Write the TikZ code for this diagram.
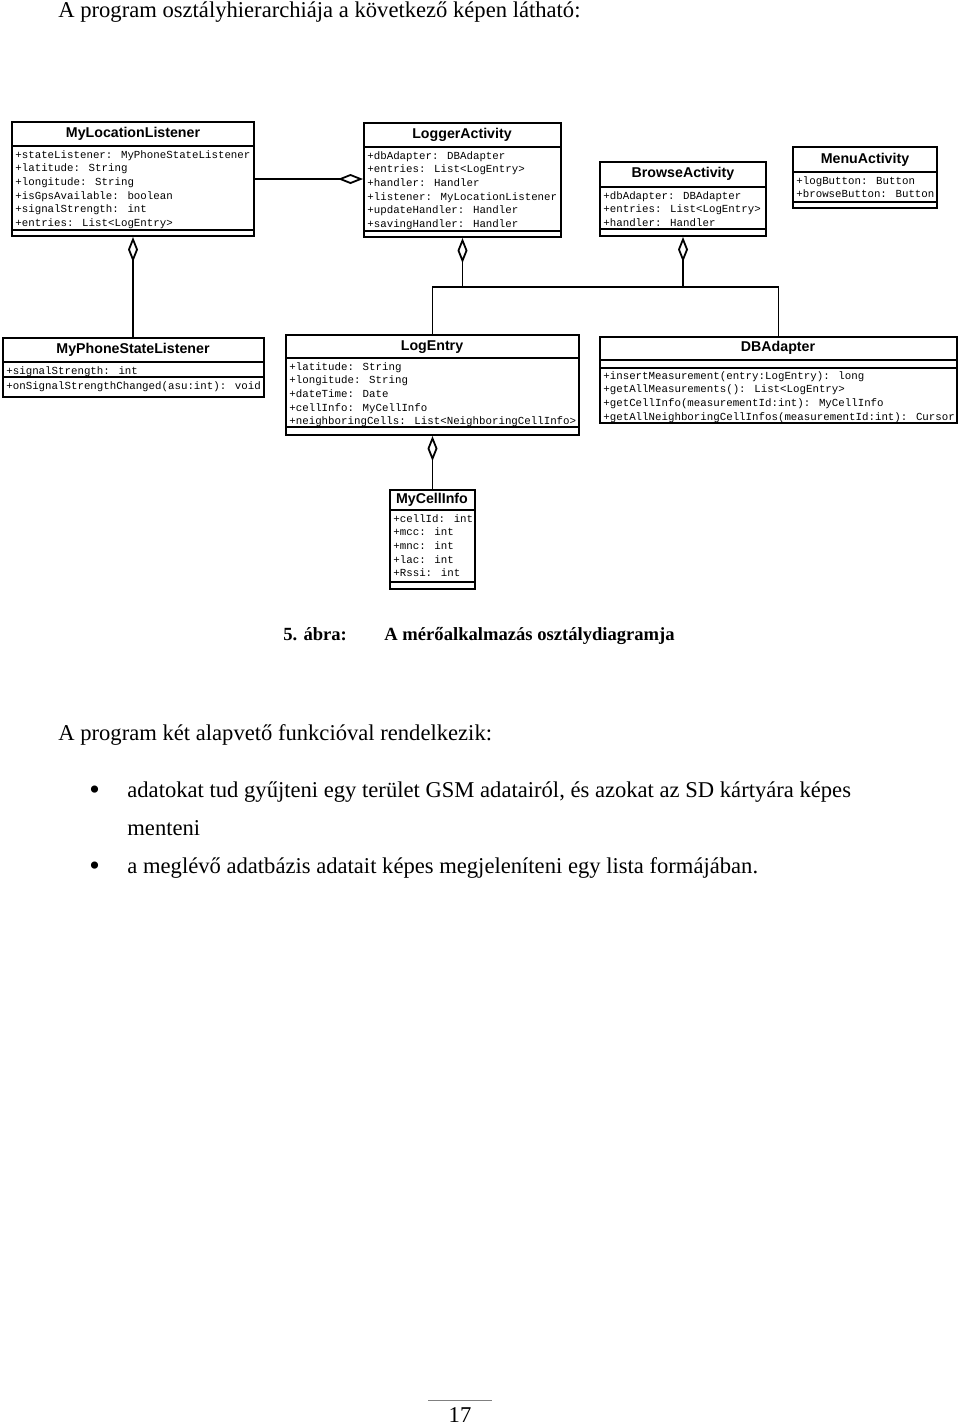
\documentclass[tikz,border=0pt]{standalone}
\usepackage{fontspec}
\setmainfont{Liberation Serif}
\newfontfamily\umlsans{Liberation Sans}
\newfontfamily\umlmono{Liberation Mono}
\usetikzlibrary{arrows.meta,fit}

\begin{document}
\begin{tikzpicture}[x=0.5pt,y=-0.5pt,
  classbox/.style={draw,line width=1pt,inner sep=0pt,fit={#1}},
  div/.style={line width=1pt},
  title/.style={font=\umlsans\bfseries\fontsize{7.1}{8.5}\selectfont},
  attr/.style={anchor=north west,inner sep=0pt,align=left,font=\umlmono\fontsize{5.39}{6.8}\selectfont},
  body/.style={anchor=base west,inner sep=0pt,font=\fontsize{11.3}{13}\selectfont},
  aggr/.style={{Diamond[open,length=12.5pt,width=5pt]}-,line width=0.9pt},
  aggrend/.style={-{Diamond[open,length=12.5pt,width=5pt]},line width=0.9pt}]
\fill[white] (0,0) rectangle (960,1426);
\useasboundingbox (0,0) rectangle (960,1426);

\node[body] (intro) at (58,17) {A program osztályhierarchiája a következő képen látható:};

% top row
\node[classbox={(12,122)(254,236)}] (mll) {};
\draw[div] (12,146)--(254,146);\draw[div] (12,230)--(254,230);
\node[title] (mllT) at (133,134) {MyLocationListener};
\node[attr] (mllA) at (15,150) {+stateListener: MyPhoneStateListener\\+latitude: String\\+longitude: String\\+isGpsAvailable: boolean\\+signalStrength: int\\+entries: List<LogEntry>};

\node[classbox={(364,123)(561,237)}] (la) {};
\draw[div] (364,147)--(561,147);\draw[div] (364,231)--(561,231);
\node[title] (laT) at (462,135) {LoggerActivity};
\node[attr] (laA) at (367,151) {+dbAdapter: DBAdapter\\+entries: List<LogEntry>\\+handler: Handler\\+listener: MyLocationListener\\+updateHandler: Handler\\+savingHandler: Handler};

\node[classbox={(600,162)(766,236)}] (ba) {};
\draw[div] (600,187)--(766,187);\draw[div] (600,229)--(766,229);
\node[title] (baT) at (683,174) {BrowseActivity};
\node[attr] (baA) at (603,191) {+dbAdapter: DBAdapter\\+entries: List<LogEntry>\\+handler: Handler};

\node[classbox={(793,147)(937,208)}] (ma) {};
\draw[div] (793,172)--(937,172);\draw[div] (793,202)--(937,202);
\node[title] (maT) at (865,160) {MenuActivity};
\node[attr] (maA) at (796,176) {+logButton: Button\\+browseButton: Button};

% bottom row
\node[classbox={(3,338)(264,397)}] (mps) {};
\draw[div] (3,362)--(264,362);\draw[div] (3,377)--(264,377);
\node[title] (mpsT) at (133,350) {MyPhoneStateListener};
\node[attr] (mpsA) at (6,366) {+signalStrength: int};
\node[attr] (mpsM) at (6,381) {+onSignalStrengthChanged(asu:int): void};

\node[classbox={(286,335)(579,435)}] (le) {};
\draw[div] (286,358)--(579,358);\draw[div] (286,427)--(579,427);
\node[title] (leT) at (432,347) {LogEntry};
\node[attr] (leA) at (289,362) {+latitude: String\\+longitude: String\\+dateTime: Date\\+cellInfo: MyCellInfo\\+neighboringCells: List<NeighboringCellInfo>};

\node[classbox={(600,337)(957,423)}] (dba) {};
\draw[div] (600,360)--(957,360);\draw[div] (600,368)--(957,368);
\node[title] (dbaT) at (778,348) {DBAdapter};
\node[attr] (dbaM) at (603,371) {+insertMeasurement(entry:LogEntry): long\\+getAllMeasurements(): List<LogEntry>\\+getCellInfo(measurementId:int): MyCellInfo\\+getAllNeighboringCellInfos(measurementId:int): Cursor};

\node[classbox={(390,490)(475,589)}] (mci) {};
\draw[div] (390,510)--(475,510);\draw[div] (390,582)--(475,582);
\node[title] (mciT) at (432,500) {MyCellInfo};
\node[attr] (mciA) at (393,514) {+cellId: int\\+mcc: int\\+mnc: int\\+lac: int\\+Rssi: int};

% aggregations
\coordinate (bus) at (0,287);
\draw[aggrend] (mll.east) -- (mll.east -| la.west);
\draw[aggr] (mll.south) -- (mll.south |- mps.north);
\draw[aggr] (la.south) -- (la.south |- bus);
\draw[aggr] (ba.south) -- (ba.south |- bus);
\draw[line width=0.9pt] (le.north) -- (le.north |- bus) -- (dba.north |- bus) -- (dba.north);
\draw[aggr] (le.south) -- (le.south |- mci.north);

\node[anchor=base west,inner sep=0pt,font=\bfseries\fontsize{9.3}{11}\selectfont] (capnum) at (283,640) {5. ábra:};
\node[anchor=base west,inner sep=0pt,font=\bfseries\fontsize{9.3}{11}\selectfont] (captxt) at (384,640) {A mérőalkalmazás osztálydiagramja};

\node[body] (lead) at (58,740) {A program két alapvető funkcióval rendelkezik:};
\node[body,font=\fontsize{15}{15}\selectfont] (dot1) at (89,799) {\textbullet};
\node[body] (item1) at (127,797) {adatokat tud gyűjteni egy terület GSM adatairól, és azokat az SD kártyára képes};
\node[body] (item1b) at (127,835) {menteni};
\node[body,font=\fontsize{15}{15}\selectfont] (dot2) at (89,875) {\textbullet};
\node[body] (item2) at (127,873) {a meglévő adatbázis adatait képes megjeleníteni egy lista formájában.};

\draw[gray,line width=0.4pt] (428,1400) -- (492,1400);
\node[anchor=base,inner sep=0pt,font=\fontsize{11.3}{13}\selectfont] (pnum) at (460,1422) {17};
\end{tikzpicture}
\end{document}
